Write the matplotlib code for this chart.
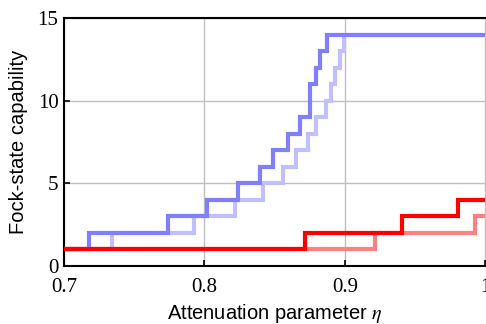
import matplotlib
matplotlib.use("Agg")
import matplotlib.pyplot as plt

# Data (step positions)
eta_blue_dark = [0.70, 0.718, 0.774, 0.8015, 0.824, 0.8395, 0.849, 0.8597, 0.868, 0.875, 0.8795, 0.882, 0.8874, 1.0]
cap_blue_dark = [1, 2, 3, 4, 5, 6, 7, 8, 9, 11, 12, 13, 14, 14]

eta_blue_light = [0.70, 0.734, 0.7925, 0.822, 0.8418, 0.8556, 0.8651, 0.8738, 0.8797, 0.8865, 0.8898, 0.893, 0.8964, 0.8995, 1.0]
cap_blue_light = [1, 2, 3, 4, 5, 6, 7, 8, 9, 10, 11, 12, 13, 14, 14]

eta_red_dark = [0.70, 0.8715, 0.9408, 0.9806, 1.0]
cap_red_dark = [1, 2, 3, 4, 4]

eta_red_light = [0.70, 0.9213, 0.9925, 1.0]
cap_red_light = [1, 2, 3, 3]

xticks = [0.7, 0.8, 0.9, 1.0]
xtick_labels = ["0.7", "0.8", "0.9", "1"]
yticks = [0, 5, 10, 15]
ytick_labels = ["0", "5", "10", "15"]

plt.rcParams["mathtext.fontset"] = "stix"

fig = plt.figure(figsize=(4.86, 3.24), dpi=100)
ax = fig.add_axes([64 / 486, 58 / 324, (485.5 - 64) / 486, (266 - 18) / 324])

lw = 3.0
kw = dict(where="post", linewidth=lw, solid_joinstyle="miter", solid_capstyle="butt")
ax.step(eta_blue_light, cap_blue_light, color="#c0c0ff", zorder=3, **kw)
ax.step(eta_blue_dark, cap_blue_dark, color="#8080ff", zorder=4, **kw)
ax.step(eta_red_light, cap_red_light, color="#ff8080", zorder=5, **kw)
ax.step(eta_red_dark, cap_red_dark, color="#ff0000", zorder=6, **kw)

ax.set_xlim(0.7, 1.0)
ax.set_ylim(0, 15)
ax.set_xticks(xticks)
ax.set_xticklabels(xtick_labels, fontfamily="Liberation Serif", fontsize=15)
ax.set_yticks(yticks)
ax.set_yticklabels(ytick_labels, fontfamily="Liberation Serif", fontsize=15)
ax.tick_params(direction="in", length=4, width=1.2)
ax.tick_params(axis="x", pad=9)
ax.tick_params(axis="y", pad=4)
ax.grid(True, color="#c0c0c0", linewidth=1.0, zorder=0)
ax.set_axisbelow(True)

for s in ["left", "bottom", "top"]:
    ax.spines[s].set_linewidth(1.5)
ax.spines["right"].set_visible(False)

ax.set_xlabel(r"Attenuation parameter $\eta$", fontfamily="Liberation Sans", fontsize=14.5, labelpad=3)
ax.set_ylabel("Fock-state capability", fontfamily="Liberation Sans", fontsize=14.5, labelpad=7)

fig.savefig("out.png", dpi=100)
